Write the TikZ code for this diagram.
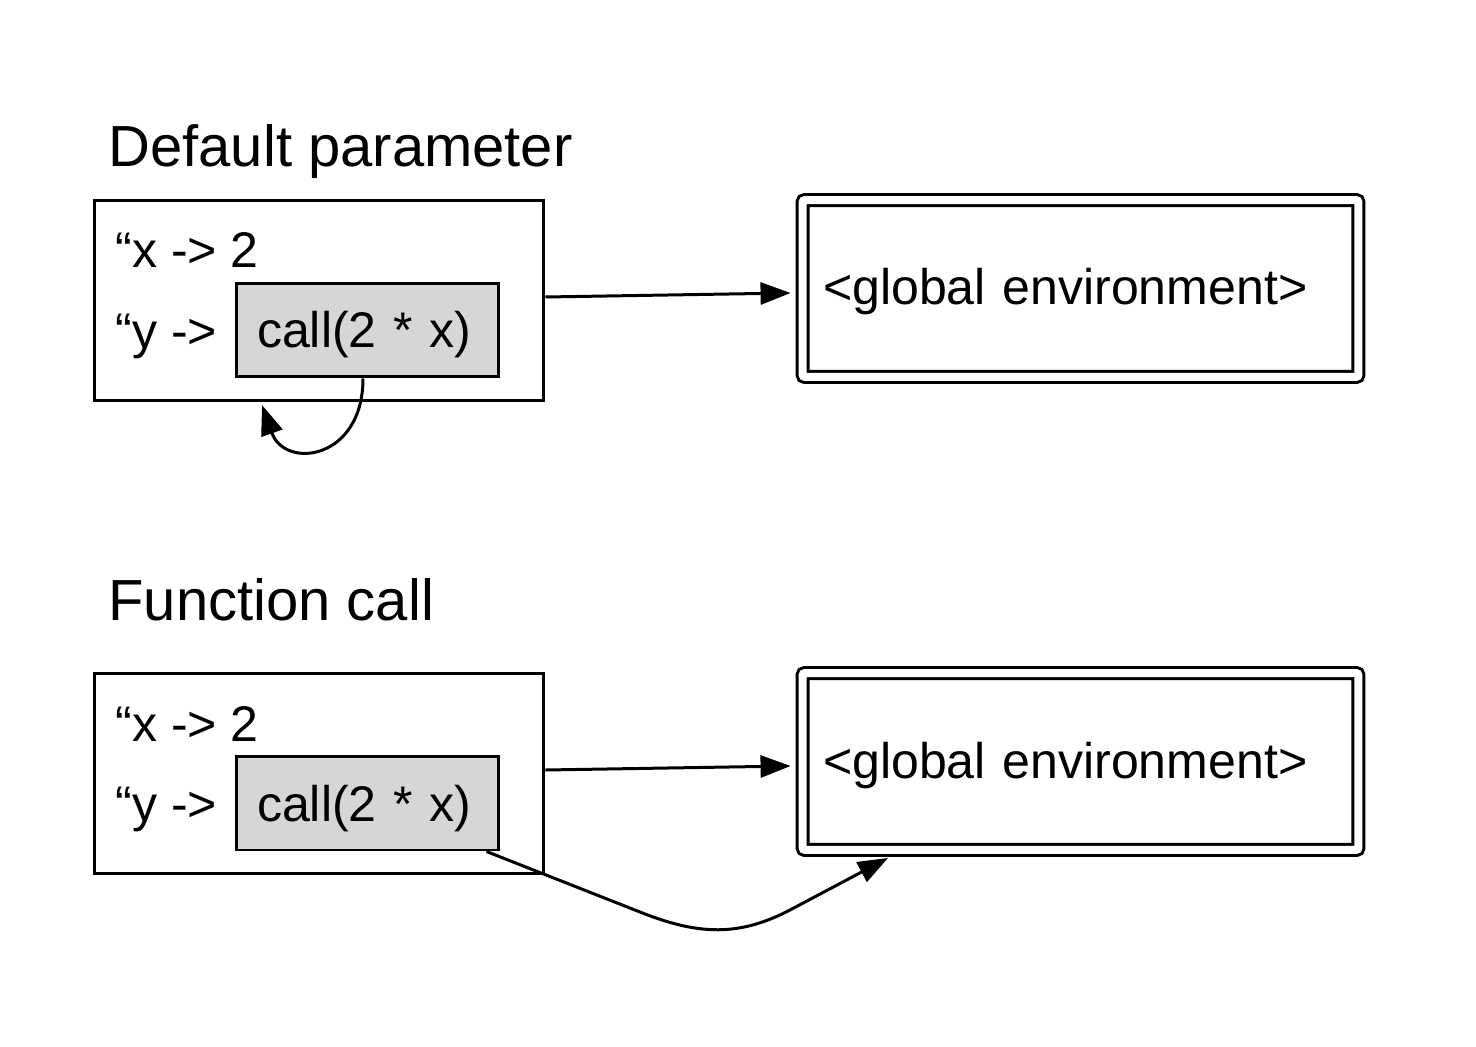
\documentclass[tikz,border=0pt]{standalone}
\usepackage{fontspec}
\setmainfont{Liberation Sans}
\usetikzlibrary{arrows.meta, positioning}
\definecolor{PromiseGray}{RGB}{214,214,214}
\newcommand{\entrysize}{\fontsize{28.5}{34}\selectfont}
\newcommand{\headsize}{\fontsize{33}{40}\selectfont}

\begin{document}
\begin{tikzpicture}[x=0.02cm, y=-0.02cm, line width=0.06cm,
	frame/.style={draw, minimum width=9cm, minimum height=4.02cm, inner sep=0pt},
	promise/.style={draw, fill=PromiseGray, minimum width=5.26cm, minimum height=1.88cm,
		inner xsep=0.42cm, text width=4.42cm, align=left, font=\entrysize,
		text height=0.86cm, text depth=0.14cm},
	genv/.style={draw, double, double distance=0.16cm, rounded corners=0.5mm,
		minimum width=11.12cm, minimum height=3.54cm, inner xsep=0.41cm,
		text width=10.3cm, align=left, font=\entrysize,
		text height=0.8cm, text depth=0.14cm},
	entry/.style={anchor=base west, inner sep=0pt, font=\entrysize},
	head/.style={anchor=base west, inner sep=0pt, font=\headsize},
	link/.style={-{Triangle[length=0.6cm, width=0.44cm]}}]
	\useasboundingbox (0,0) rectangle (1476,1047);
	% default parameter
	\node[head] (head1) at (107,167) {Default parameter};
	\node[frame] (frame1) at (319,300.5) {};
	\node[entry] (xrow1) at (114,268) {“x -> 2};
	\node[entry] (yrow1) at (114,348) {“y ->};
	\node[promise] (promise1) at (367.5,330) {call(2 * x)};
	\node[genv] (global1) at (1080.5,288.5) {<global environment>};
	\coordinate (back1) at (262,405);
	\draw[link] ([yshift=0.07cm]frame1.east) -- ([xshift=-0.21cm, yshift=-0.09cm]global1.west);
	\draw[link] ([xshift=-0.09cm]promise1.south) .. controls (363,460) and (285,470) .. (back1);
	% function call
	\node[head] (head2) at (107,620) {Function call};
	\node[frame] (frame2) at (319,773.5) {};
	\node[entry] (xrow2) at (114,741) {“x -> 2};
	\node[entry] (yrow2) at (114,821) {“y ->};
	\node[promise] (promise2) at (367.5,803) {call(2 * x)};
	\node[genv] (global2) at (1080.5,761.5) {<global environment>};
	\coordinate (ret2) at (888,858);
	\draw[link] ([yshift=0.07cm]frame2.east) -- ([xshift=-0.21cm, yshift=-0.09cm]global2.west);
	\draw[link] ([xshift=-0.28cm]promise2.south east) -- (640,912)
		.. controls (700,936) and (740,936) .. (790,910) -- (ret2);
\end{tikzpicture}
\end{document}
